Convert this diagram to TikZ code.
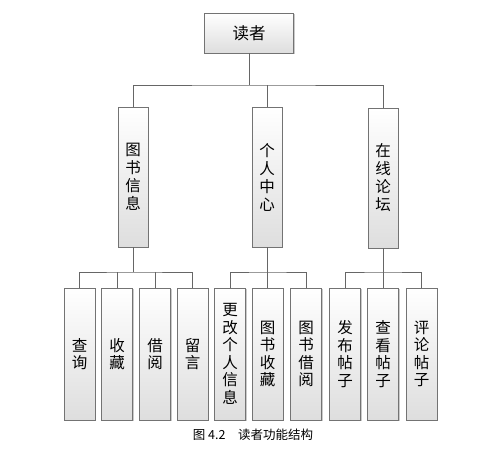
\documentclass[tikz,border=0pt]{standalone}
\usepackage{fontspec}
\setmainfont{Noto Sans CJK SC}
\usetikzlibrary{shadows}
\begin{document}
\begin{tikzpicture}[x=1pt,y=-1pt,
  box/.style={draw=black!55, line width=0.8pt, top color=white, bottom color=black!13,
    drop shadow={shadow xshift=1.2pt, shadow yshift=-1.2pt, opacity=0.35, fill=black!60},
    inner sep=0pt, align=center, font=\fontsize{15.5}{18}\selectfont},
  vbox/.style={box, minimum width=30pt, minimum height=140pt},
  leaf/.style={box, minimum width=31pt, minimum height=132pt, font=\fontsize{15.5}{17.5}\selectfont},
  conn/.style={draw=black!60, line width=0.8pt}]
\useasboundingbox (0,0) rectangle (500,452);
\node[box, minimum width=89pt, minimum height=40pt, font=\fontsize{16.5}{18}\selectfont] (reader) at (249,33) {读者};
\node[vbox] (l2a) at (133,177) {图\\书\\信\\息};
\node[vbox] (l2b) at (267,177) {个\\人\\中\\心};
\node[vbox] (l2c) at (383,178) {在\\线\\论\\坛};
\node[leaf] (a1) at (79.5,354) {查\\询};
\node[leaf] (a2) at (117,354) {收\\藏};
\node[leaf] (a3) at (155,354) {借\\阅};
\node[leaf] (a4) at (192.5,354) {留\\言};
\node[leaf] (b1) at (230,354) {更\\改\\个\\人\\信\\息};
\node[leaf] (b2) at (267.5,354) {图\\书\\收\\藏};
\node[leaf] (b3) at (306,354) {图\\书\\借\\阅};
\node[leaf] (c1) at (345,354) {发\\布\\帖\\子};
\node[leaf] (c2) at (383,354) {查\\看\\帖\\子};
\node[leaf] (c3) at (421.5,354) {评\\论\\帖\\子};
\node[font=\fontsize{12.5}{14}\selectfont] (cap) at (253,435) {图 4.2\quad 读者功能结构};
\coordinate (bus) at (249,85);
\coordinate (busA) at (133,272);
\coordinate (busB) at (267,272);
\coordinate (busC) at (383,272);
\draw[conn] (reader.south) -- (bus);
\draw[conn] (l2a.north) |- (bus) -| (l2c.north);
\draw[conn] (l2b.north) -- (l2b.north |- bus);
\draw[conn] (l2a.south) -- (busA);
\draw[conn] (a1.north) |- (busA) -| (a4.north);
\draw[conn] (a2.north) -- (a2.north |- busA);
\draw[conn] (a3.north) -- (a3.north |- busA);
\draw[conn] (l2b.south) -- (busB);
\draw[conn] (b1.north) |- (busB) -| (b3.north);
\draw[conn] (b2.north) -- (b2.north |- busB);
\draw[conn] (l2c.south) -- (busC);
\draw[conn] (c1.north) |- (busC) -| (c3.north);
\draw[conn] (c2.north) -- (c2.north |- busC);
\end{tikzpicture}
\end{document}
